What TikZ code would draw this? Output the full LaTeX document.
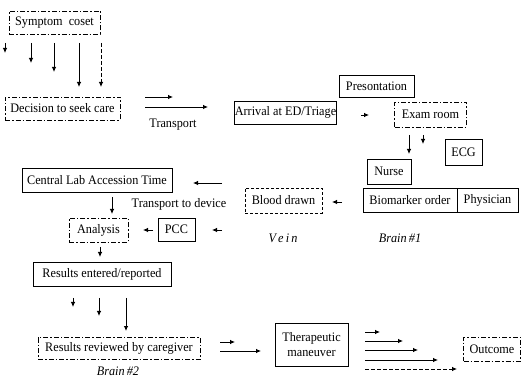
\documentclass[tikz,border=0pt]{standalone}
\usepackage{fontspec}
\setmainfont{Liberation Serif}[FakeStretch=0.94]
\usetikzlibrary{arrows.meta}
\begin{document}
\begin{tikzpicture}[x=1pt,y=-1pt,
  every node/.style={font=\fontsize{13}{14}\selectfont, inner sep=0pt},
  box/.style={draw, line width=0.9pt, align=center},
  dashdot/.style={box, line width=0.8pt, dash pattern=on 5pt off 2pt on 1.5pt off 2pt},
  dashbox/.style={box, line width=0.6pt, dash pattern=on 3pt off 2pt},
  lbl/.style={},
  ital/.style={font=\fontsize{13}{14}\selectfont\itshape},
  arr/.style={line width=0.8pt, -{Latex[length=5pt,width=4.5pt]}},
  darr/.style={arr, dash pattern=on 4pt off 2pt}
]
\useasboundingbox (0,0) rectangle (522,379);
% nodes
\node[dashdot, minimum width=91pt, minimum height=23pt] (sym) at (54.5,22.5) {Symptom\ \ coset};
\node[dashdot, minimum width=115pt, minimum height=23pt] (dec) at (62.5,108.5) {Decision to seek care};
\node[lbl] (transport) at (173,125) {Transport};
\node[box, minimum width=98pt, minimum height=23pt] (arrival) at (285.5,112.5) {Arrival at ED/Triage};
\node[box, minimum width=75pt, minimum height=22pt] (pres) at (376.5,86) {Presontation};
\node[dashdot, minimum width=72pt, minimum height=25pt] (exam) at (430.5,114.5) {Exam room};
\node[box, minimum width=37pt, minimum height=26pt] (ecg) at (463.5,152) {ECG};
\node[box, minimum width=44pt, minimum height=25pt] (nurse) at (389,171.5) {Nurse};
\node[box, minimum width=94pt, minimum height=24pt] (bio) at (410,200) {Biomarker order};
\node[box, minimum width=61pt, minimum height=24pt] (phys) at (487.5,200) {Physician};
\node[ital] (brain1) at (400,238) {Brain\,\#1};
\node[dashbox, minimum width=77pt, minimum height=25pt] (blood) at (283.5,200.5) {Blood drawn};
\node[ital] (vein) at (283,238) {V\,e\,i\,n};
\node[box, minimum width=150pt, minimum height=24pt] (central) at (97,180) {Central Lab Accession Time};
\node[lbl] (ttd) at (179,204) {Transport to device};
\node[dashdot, minimum width=59pt, minimum height=24pt] (analysis) at (98.5,230) {Analysis};
\node[box, minimum width=37pt, minimum height=23pt] (pcc) at (176.5,229.5) {PCC};
\node[box, minimum width=138pt, minimum height=24pt] (results) at (102,274) {Results entered/reported};
\node[dashdot, minimum width=162pt, minimum height=22pt] (reviewed) at (119,348) {Results reviewed by caregiver};
\node[ital] (brain2) at (118,371) {Brain\,\#2};
\node[box, minimum width=73pt, minimum height=43pt] (thera) at (311.5,345) {Therapeutic\\[1pt]maneuver};
\node[dashdot, minimum width=57pt, minimum height=24pt] (outcome) at (492,349) {Outcome};
% arrow coordinates
\foreach \n/\x/\ya/\yb in {a/5/43/53, b/31/43/63, c/54/43/72, d/79/43/87, e/101/43/87}
  {\coordinate (s\n1) at (\x,\ya); \coordinate (s\n2) at (\x,\yb);}
\draw[arr] (sa1) -- (sa2);
\draw[arr] (sb1) -- (sb2);
\draw[arr] (sc1) -- (sc2);
\draw[arr] (sd1) -- (sd2);
\draw[darr] (se1) -- (se2);
\coordinate (t1a) at (145,97); \coordinate (t1b) at (173,97);
\coordinate (t2a) at (145,107); \coordinate (t2b) at (208,107);
\draw[arr] (t1a) -- (t1b);
\draw[arr] (t2a) -- (t2b);
\coordinate (ae1) at (361,115); \coordinate (ae2) at (369,115);
\draw[arr] (ae1) -- (ae2);
\coordinate (ed1a) at (409,135); \coordinate (ed1b) at (409,154);
\coordinate (ed2a) at (423,135); \coordinate (ed2b) at (423,144);
\draw[arr] (ed1a) -- (ed1b);
\draw[arr] (ed2a) -- (ed2b);
\coordinate (bb1) at (342,202); \coordinate (bb2) at (332,202);
\draw[arr] (bb1) -- (bb2);
\coordinate (bc1) at (222,183); \coordinate (bc2) at (193,183);
\draw[arr] (bc1) -- (bc2);
\coordinate (bp1) at (222,230); \coordinate (bp2) at (212,230);
\draw[arr] (bp1) -- (bp2);
\coordinate (pa1) at (153,230); \coordinate (pa2) at (143,230);
\draw[arr] (pa1) -- (pa2);
\coordinate (ca1) at (112,197); \coordinate (ca2) at (112,214);
\draw[arr] (ca1) -- (ca2);
\coordinate (ar1) at (100,247); \coordinate (ar2) at (100,257);
\draw[arr] (ar1) -- (ar2);
\foreach \n/\x/\yb in {a/73/307, b/99/316, c/126/331}
  {\coordinate (r\n1) at (\x,298); \coordinate (r\n2) at (\x,\yb);}
\draw[arr] (ra1) -- (ra2);
\draw[arr] (rb1) -- (rb2);
\draw[arr] (rc1) -- (rc2);
\coordinate (rt1a) at (220,342); \coordinate (rt1b) at (235,342);
\coordinate (rt2a) at (220,351); \coordinate (rt2b) at (261,351);
\draw[arr] (rt1a) -- (rt1b);
\draw[arr] (rt2a) -- (rt2b);
\foreach \n/\y/\xb in {a/332/380, b/341/403, c/350/418, d/360/438, e/369/457}
  {\coordinate (o\n1) at (365,\y); \coordinate (o\n2) at (\xb,\y);}
\draw[arr] (oa1) -- (oa2);
\draw[arr] (ob1) -- (ob2);
\draw[arr] (oc1) -- (oc2);
\draw[arr] (od1) -- (od2);
\draw[darr] (oe1) -- (oe2);
\end{tikzpicture}
\end{document}
